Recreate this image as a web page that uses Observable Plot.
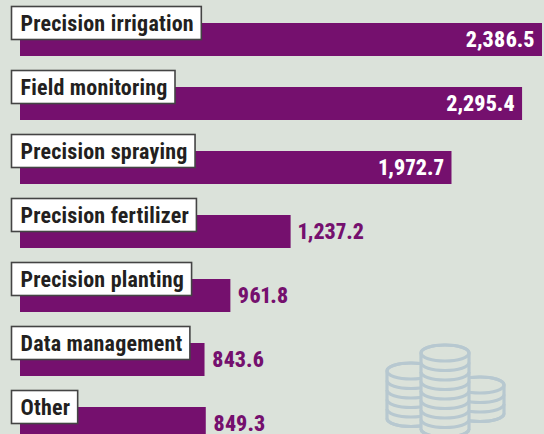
<!DOCTYPE html>
<html><head><meta charset="utf-8">
<script src="https://cdn.jsdelivr.net/npm/d3@7"></script>
<script src="https://cdn.jsdelivr.net/npm/@observablehq/plot@0.6"></script>
<style>html,body{margin:0;padding:0;background:#dbe2da}#c{width:544px;height:434px;overflow:hidden}svg{display:block}svg text{font-stretch:75%;font-variant-numeric:proportional-nums}.cat text,text.cat{letter-spacing:0.2px}</style>
</head><body><div id="c"></div><script>
const categories = ["Precision irrigation","Field monitoring","Precision spraying","Precision fertilizer","Precision planting","Data management","Other"];
const values = [2386.5,2295.4,1972.7,1237.2,961.8,843.6,849.3];
const insideMin = 1500;
const FONT = "Roboto,'Liberation Sans',sans-serif";
const labelSize = 22, valueSize = 22;
const xMax = 2386.5, x0 = 20, x1 = 542;
const pxPerUnit = (x1 - x0) / xMax;

// measure a label with the same font settings as the drawn text
const probe = d3.select(document.body).append("svg").attr("width",1).attr("height",1).style("position","absolute");
const probeText = probe.append("text").attr("class","cat").attr("font-family",FONT).attr("font-size",labelSize).attr("font-weight",700);
function textWidth(s){ probeText.text(s); return probeText.node().getComputedTextLength(); }
const data = categories.map((c,i)=>({c, v:values[i], w: textWidth(c) / pxPerUnit}));
probe.remove();
const fmt = d3.format(",.1f");

function coins(){
  const g = d3.create("svg:g").attr("fill","none").attr("stroke","#b7c8d0").attr("stroke-width",3.2);
  function stack(cx, cy, n, fill){
    const rx=24, ry=8, step=9.5;
    g.append("path").attr("fill",fill)
      .attr("d",`M${cx-rx},${cy}A${rx},${ry} 0 0 1 ${cx+rx},${cy}V${cy+n*step}A${rx},${ry} 0 0 1 ${cx-rx},${cy+n*step}Z`);
    g.append("ellipse").attr("cx",cx).attr("cy",cy).attr("rx",rx).attr("ry",ry);
    for(let i=1;i<=n;i++)
      g.append("path").attr("d",`M${cx-rx},${cy+i*step}A${rx},${ry} 0 0 0 ${cx+rx},${cy+i*step}`);
  }
  stack(411,371,5,"#dbe2da");
  stack(480,385,3,"#dbe2da");
  stack(445,353,8,"#dbe2da");
  return g.node();
}

const plot = Plot.plot({
  width:544, height:434,
  marginLeft:0, marginRight:0, marginTop:0, marginBottom:0,
  style:{background:"#dbe2da", fontFamily:FONT},
  x:{domain:[0,xMax], range:[x0,x1], axis:null},
  y:{domain:categories, range:[-8,471], paddingInner:0.484, paddingOuter:0.484, align:0.5, axis:null},
  marks:[
    coins,
    Plot.barX(data,{x:"v", y:"c", fill:"#75106e"}),
    Plot.rect(data,{
      x1:()=>0, x2:"w", y:"c",
      fill:"white", stroke:"#444", strokeWidth:1.6,
      insetLeft:-8.5, insetRight:-8, insetTop:-16.5, insetBottom:16.5
    }),
    Plot.text(data,{x:()=>0, y:"c", text:"c", textAnchor:"start", dy:-16, fill:"#231f20", fontSize:labelSize, fontWeight:700, className:"cat"}),
    Plot.text(data.filter(d=>d.v>insideMin),{x:"v", y:"c", text:d=>fmt(d.v), textAnchor:"end", dx:-8, fill:"white", fontSize:valueSize, fontWeight:800}),
    Plot.text(data.filter(d=>d.v<=insideMin),{x:"v", y:"c", text:d=>fmt(d.v), textAnchor:"start", dx:7, fill:"#75106e", fontSize:valueSize, fontWeight:800})
  ]
});
document.getElementById("c").appendChild(plot);
</script></body></html>
